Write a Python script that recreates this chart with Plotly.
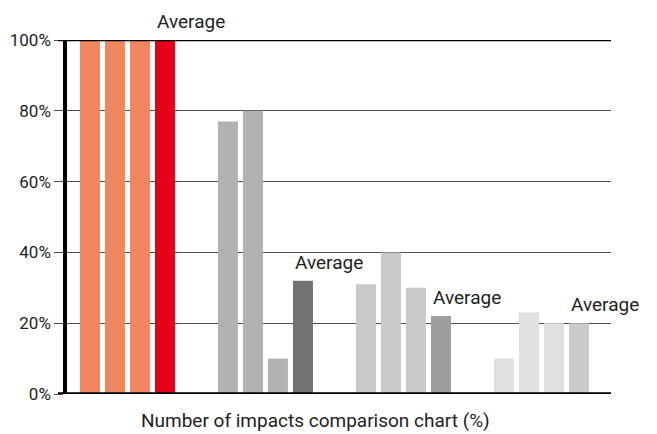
import plotly.graph_objects as go

# ---- data ----
groups = ["A", "B", "C", "D"]
bar1 = [100, 77, 31, 10]
bar2 = [100, 80, 40, 23]
bar3 = [100, 10, 30, 20]
average = [100, 32, 22, 20]
avg_label = "Average"
y_ticks = [0, 20, 40, 60, 80, 100]
y_tick_text = ["0%", "20%", "40%", "60%", "80%", "100%"]
x_title = "Number of impacts comparison chart (%)"

# ---- styles ----
bar_colors = ["#f0865f", "#b2b2b2", "#c9c9c9", "#e0e0e0"]
avg_colors = ["#e30016", "#727272", "#9d9e9d", "#c9cac9"]
font_family = "Roboto, 'DejaVu Sans', sans-serif"
text_color = "#1e1e1e"
BARGAP = 0.275
BARGROUPGAP = 0.2
N = 4

fig = go.Figure()
for i, vals in enumerate([bar1, bar2, bar3, average]):
    fig.add_trace(go.Bar(
        x=groups, y=vals,
        marker=dict(color=avg_colors if i == 3 else bar_colors, line=dict(width=0)),
        hoverinfo="skip", showlegend=False,
    ))

# left edge of the Average bar within each category (data units)
slot = (1 - BARGAP) / N
avg_left_offset = -(1 - BARGAP) / 2 + 3 * slot + slot * BARGROUPGAP / 2
for gi, v in enumerate(average):
    fig.add_annotation(
        x=gi + avg_left_offset, y=v, xref="x", yref="y",
        text=avg_label, showarrow=False, xanchor="left", yanchor="bottom",
        yshift=5, font=dict(size=19, color=text_color, family=font_family),
    )

# x-axis title
fig.add_annotation(
    x=0.457, y=0, xref="paper", yref="paper", text=x_title, showarrow=False,
    xanchor="center", yanchor="middle", yshift=-26, borderpad=0,
    font=dict(size=19, color=text_color, family=font_family),
)

# bottom baseline and top 100% line
fig.add_shape(type="line", xref="paper", yref="y", x0=-9 / 544, x1=1, y0=0, y1=0,
              line=dict(color="black", width=3.5), layer="above")
fig.add_shape(type="line", xref="paper", yref="y", x0=-9 / 544, x1=1, y0=100, y1=100,
              line=dict(color="black", width=2.5), layer="above")

fig.update_layout(
    width=657, height=434,
    margin=dict(l=67, r=46, t=40, b=40),
    paper_bgcolor="white", plot_bgcolor="white",
    barmode="group", bargap=BARGAP, bargroupgap=BARGROUPGAP,
    font=dict(family=font_family, color=text_color),
    xaxis=dict(
        type="category", range=[-0.438, 3.504],
        showticklabels=False, ticks="", showgrid=False, zeroline=False,
        showline=False, automargin=False,
    ),
    yaxis=dict(
        range=[0, 100], tickvals=y_ticks, ticktext=y_tick_text,
        ticks="outside", ticklen=9, tickcolor="#4d4d4d", tickwidth=1,
        showgrid=True, gridcolor="#4d4d4d", gridwidth=1,
        zeroline=False, showline=True, linecolor="black", linewidth=3.5,
        tickfont=dict(size=17, color=text_color),
        automargin=False,
    ),
)

fig.write_html(
    "out.html",
    config={"displayModeBar": False},
    post_script="document.body.style.margin='0';document.body.style.overflow='hidden';",
)
